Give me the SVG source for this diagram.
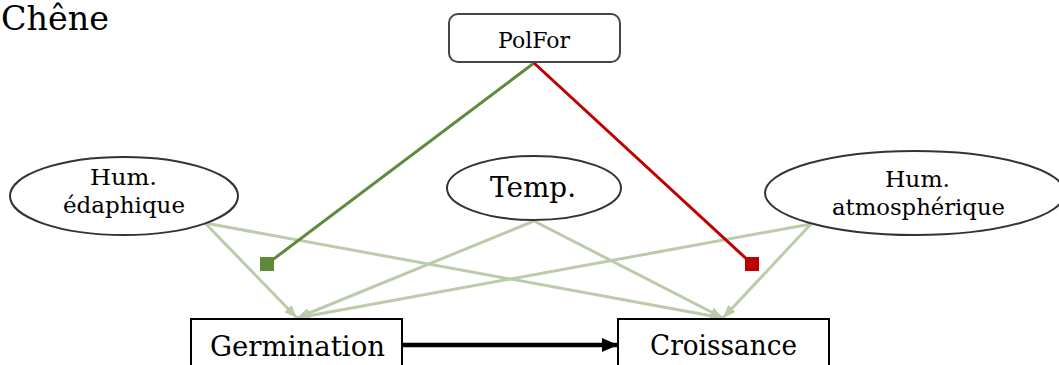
<svg xmlns="http://www.w3.org/2000/svg" width="1059" height="365" viewBox="0 0 1059 365">
<style>
text{font-family:"DejaVu Serif",serif;fill:#000}
.box{fill:#fff;stroke:#000;stroke-width:2}
.pol{fill:#fff;stroke:#454545;stroke-width:2}
.ell{fill:#fff;stroke:#333;stroke-width:2}
.lg{stroke:#bccbaa;stroke-width:3;fill:none;marker-end:url(#ah)}
</style>
<defs>
<marker id="ah" markerUnits="userSpaceOnUse" markerWidth="14" markerHeight="10" refX="13" refY="5" orient="auto"><path d="M0,0 L13,5 L0,10 Z" fill="#bccbaa"/></marker>
<marker id="ab" markerUnits="userSpaceOnUse" markerWidth="16" markerHeight="14" refX="16" refY="7" orient="auto"><path d="M0,0 L16,7 L0,14 Z" fill="#000"/></marker>
<marker id="sg" markerUnits="userSpaceOnUse" markerWidth="16" markerHeight="16" refX="8" refY="8" orient="0"><rect x="1" y="1" width="14" height="14" fill="#5f8a3b"/></marker>
<marker id="sr" markerUnits="userSpaceOnUse" markerWidth="16" markerHeight="16" refX="8" refY="8" orient="0"><rect x="1" y="1" width="14" height="14" fill="#c00000"/></marker>
</defs>
<text x="1" y="30" font-size="34" textLength="108" lengthAdjust="spacingAndGlyphs">Chêne</text>
<g id="connectors">
<line class="lg" x1="205" y1="223" x2="297" y2="318"/>
<line class="lg" x1="205" y1="223" x2="723" y2="318"/>
<line class="lg" x1="534" y1="221" x2="297" y2="318"/>
<line class="lg" x1="534" y1="221" x2="723" y2="318"/>
<line class="lg" x1="811" y1="224" x2="297" y2="318"/>
<line class="lg" x1="811" y1="224" x2="723" y2="318"/>
<line x1="534" y1="63" x2="267" y2="264" stroke="#5f8a3b" stroke-width="3" marker-end="url(#sg)"/>
<line x1="534" y1="63" x2="752" y2="264" stroke="#c00000" stroke-width="3" marker-end="url(#sr)"/>
<line x1="403" y1="345" x2="618" y2="345" stroke="#000" stroke-width="4.5" marker-end="url(#ab)"/>
</g>
<g id="polfor">
<rect class="pol" x="449" y="14" width="171" height="48" rx="9"/>
<text x="498" y="48" font-size="23" textLength="72" lengthAdjust="spacingAndGlyphs">PolFor</text>
</g>
<g id="hum-edaphique">
<ellipse class="ell" cx="124" cy="196" rx="114" ry="39"/>
<text x="90" y="185" font-size="23" textLength="67" lengthAdjust="spacingAndGlyphs">Hum.</text>
<text x="63" y="213" font-size="23" textLength="122" lengthAdjust="spacingAndGlyphs">édaphique</text>
</g>
<g id="temp">
<ellipse class="ell" cx="534" cy="188" rx="87" ry="32"/>
<text x="490" y="197" font-size="28" textLength="86" lengthAdjust="spacingAndGlyphs">Temp.</text>
</g>
<g id="hum-atmospherique">
<ellipse class="ell" cx="915" cy="193" rx="150" ry="42"/>
<text x="885" y="187" font-size="23" textLength="65" lengthAdjust="spacingAndGlyphs">Hum.</text>
<text x="832" y="215" font-size="23" textLength="173" lengthAdjust="spacingAndGlyphs">atmosphérique</text>
</g>
<g id="germination">
<rect class="box" x="191" y="319" width="211" height="60"/>
<text x="210" y="356" font-size="27" textLength="175" lengthAdjust="spacingAndGlyphs">Germination</text>
</g>
<g id="croissance">
<rect class="box" x="618" y="319" width="211" height="60"/>
<text x="650" y="355" font-size="27" textLength="147" lengthAdjust="spacingAndGlyphs">Croissance</text>
</g>
</svg>
